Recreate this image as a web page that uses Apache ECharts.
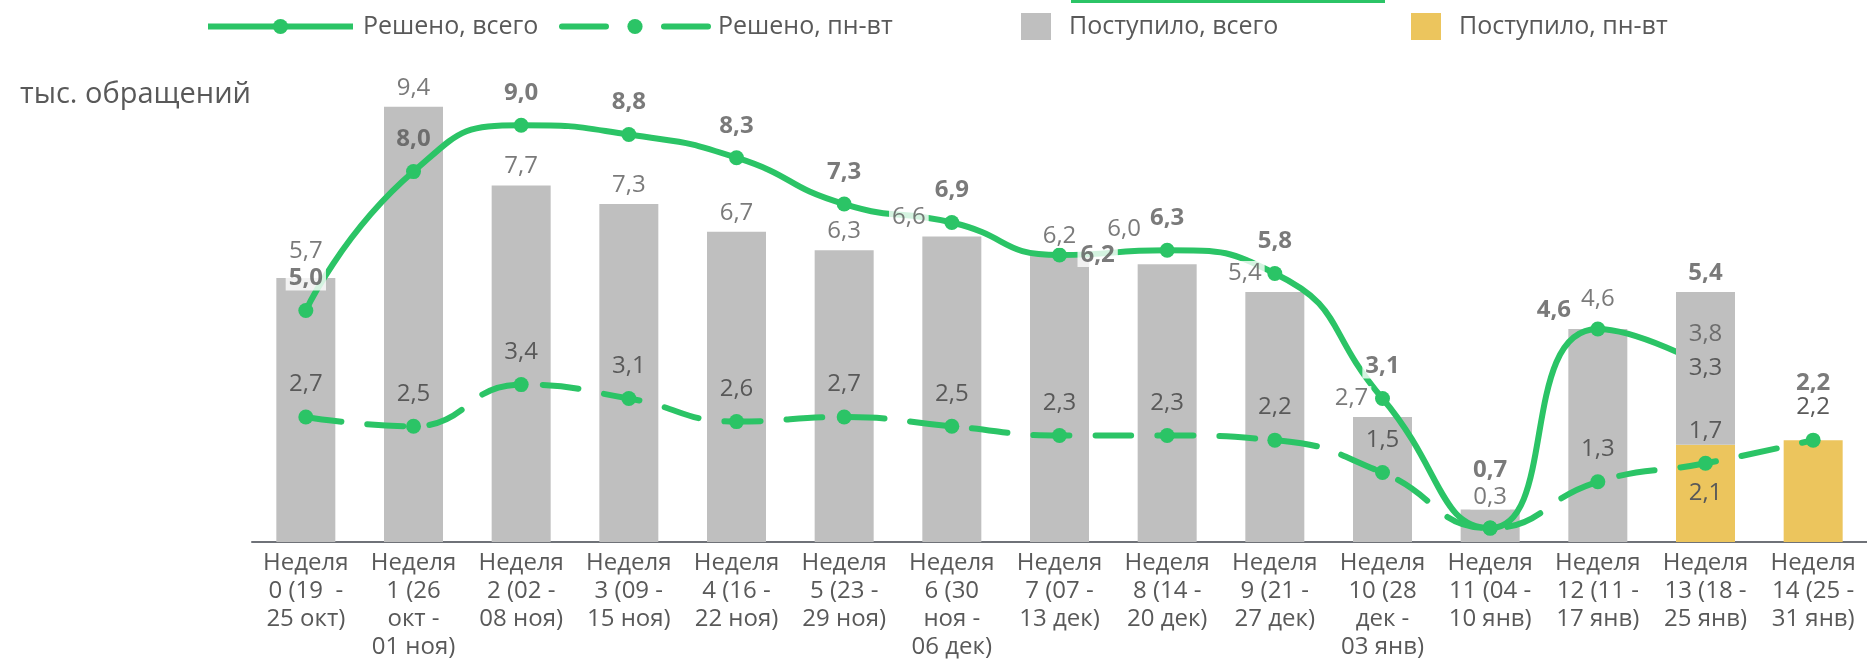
<!DOCTYPE html>
<html>
<head>
<meta charset="utf-8">
<script src="https://cdn.jsdelivr.net/npm/echarts@6/dist/echarts.min.js"></script>
<style>
  html, body { margin: 0; padding: 0; background: #fff; }
  #chart { width: 1867px; height: 662px; }
</style>
</head>
<body>
<div id="chart"></div>
<script>
  // недели
  const weeks = [
    'Неделя\n0 (19  -\n25 окт)', 'Неделя\n1 (26\nокт -\n01 ноя)', 'Неделя\n2 (02 -\n08 ноя)',
    'Неделя\n3 (09 -\n15 ноя)', 'Неделя\n4 (16 -\n22 ноя)', 'Неделя\n5 (23 -\n29 ноя)',
    'Неделя\n6 (30\nноя -\n06 дек)', 'Неделя\n7 (07 -\n13 дек)', 'Неделя\n8 (14 -\n20 дек)',
    'Неделя\n9 (21 -\n27 дек)', 'Неделя\n10 (28\nдек -\n03 янв)', 'Неделя\n11 (04 -\n10 янв)',
    'Неделя\n12 (11 -\n17 янв)', 'Неделя\n13 (18 -\n25 янв)', 'Неделя\n14 (25 -\n31 янв)'
  ];
  // Поступило, всего (на неделе 13 - часть сверх пн-вт)
  const received = [5.7, 9.4, 7.7, 7.3, 6.7, 6.3, 6.6, 6.2, 6.0, 5.4, 2.7, 0.7, 4.6, 3.3, null];
  // Поступило, пн-вт
  const receivedMonTue = [null, null, null, null, null, null, null, null, null, null, null, null, null, 2.1, 2.2];
  // Решено, всего
  const solved = [5.0, 8.0, 9.0, 8.8, 8.3, 7.3, 6.9, 6.2, 6.3, 5.8, 3.1, 0.3, 4.6, 3.8, null];
  // Решено, пн-вт
  const solvedMonTue = [2.7, 2.5, 3.4, 3.1, 2.6, 2.7, 2.5, 2.3, 2.3, 2.2, 1.5, 0.3, 1.3, 1.7, 2.2];

  // подписи как на слайде
  const receivedText = ['5,7', '9,4', '7,7', '7,3', '6,7', '6,3', '6,6', '6,2', '6,0', '5,4', '2,7', '0,3', '4,6', '5,4', '2,2'];
  const solvedText = ['5,0', '8,0', '9,0', '8,8', '8,3', '7,3', '6,9', '6,2', '6,3', '5,8', '3,1', '0,7', '4,6', '3,8', ''];
  const solvedMonTueText = ['2,7', '2,5', '3,4', '3,1', '2,6', '2,7', '2,5', '2,3', '2,3', '2,2', '1,5', '', '1,3', '1,7', '2,2'];

  const green = '#2BC466';
  const gray = '#BFBFBF';
  const yellow = '#ECC55D';
  const textColor = '#595959';

  const fmt = v => v.toFixed(1).replace('.', ',');
  const totals = received.map((v, i) => (v || 0) + (receivedMonTue[i] || 0));

  // сдвиги подписей, чтобы не налезали на линии
  const receivedTweaks = {
    0: {distance: 15}, 6: {offset: [-43, 0]}, 8: {offset: [-43, -16]}, 9: {offset: [-30, 0]},
    10: {offset: [-31, 0]}, 11: {distance: 0}, 12: {distance: 18},
    13: {fontWeight: 'bold'}, 14: {fontWeight: 'bold', distance: 45}
  };
  const solvedTweaks = {
    1: {backgroundColor: 'transparent'}, 7: {position: 'right', distance: 18},
    11: {distance: 20, offset: [0, -26], backgroundColor: 'transparent'}, 12: {offset: [-44, 13]},
    13: {fontWeight: 'normal', backgroundColor: 'transparent'}
  };

  let myChart = echarts.init(document.getElementById('chart'));

  myChart.setOption({
    animation: false,
    backgroundColor: '#fff',
    textStyle: {fontFamily: 'Open Sans'},
    title: {
      text: 'тыс. обращений',
      left: 15,
      top: 75,
      textStyle: {fontSize: 29, fontWeight: 'normal', color: textColor, fontFamily: 'Open Sans'}
    },
    graphic: [{
      type: 'rect',
      shape: {x: 1071, y: 0, width: 314, height: 3},
      style: {fill: green}
    }],
    legend: [{
      data: ['Решено, всего'], left: 200, top: 9, itemWidth: 145, itemHeight: 19,
      lineStyle: {width: 6},
      textStyle: {fontSize: 25, color: textColor, padding: [0, 0, 0, 5]}
    }, {
      data: ['Решено, пн-вт'], left: 554, top: 9, itemWidth: 146, itemHeight: 19,
      lineStyle: {width: 6, type: [44, 58]},
      textStyle: {fontSize: 25, color: textColor, padding: [0, 0, 0, 5]}
    }, {
      data: ['Поступило, всего'], left: 1016, top: 8, itemWidth: 30, itemHeight: 27, icon: 'rect',
      textStyle: {fontSize: 25, color: textColor, padding: [0, 0, 0, 13]}
    }, {
      data: ['Поступило, пн-вт'], left: 1406, top: 8, itemWidth: 30, itemHeight: 27, icon: 'rect',
      textStyle: {fontSize: 25, color: textColor, padding: [0, 0, 0, 13]}
    }],
    grid: {left: 252, right: 0, top: 79, bottom: 120, containLabel: false, outerBoundsMode: 'none'},
    xAxis: {
      type: 'category',
      data: weeks,
      axisLine: {lineStyle: {color: '#6f7278', width: 2}},
      axisTick: {show: false},
      axisLabel: {interval: 0, fontSize: 24, lineHeight: 28, color: textColor, margin: 7}
    },
    yAxis: {type: 'value', min: 0, max: 10, show: false},
    series: [{
      name: 'Поступило, всего',
      type: 'bar',
      stack: 'in',
      barWidth: 59,
      barGap: '-100%',
      z: 2,
      itemStyle: {color: gray},
      data: received.map((v, i) => i === 13 ? null : v)
    }, {
      name: 'Поступило, пн-вт',
      type: 'bar',
      stack: 'in',
      barWidth: 59,
      z: 2,
      itemStyle: {color: yellow},
      label: {
        show: true, position: 'inside', fontSize: 24, color: textColor,
        formatter: p => p.dataIndex === 13 ? fmt(p.value) : ''
      },
      data: receivedMonTue
    }, {
      name: 'Поступило, всего',
      type: 'bar',
      stack: 'in',
      barWidth: 59,
      z: 4,
      itemStyle: {color: gray},
      label: {show: true, position: 'inside', fontSize: 24, color: textColor, formatter: p => fmt(p.value)},
      data: received.map((v, i) => i === 13 ? v : null)
    }, {
      name: 'Решено, всего',
      type: 'line',
      smooth: 0.55,
      z: 3,
      symbol: 'circle',
      symbolSize: 15,
      itemStyle: {color: green},
      lineStyle: {color: green, width: 6},
      data: solved
    }, {
      name: 'Решено, пн-вт',
      type: 'line',
      smooth: 0.5,
      z: 6,
      symbol: 'circle',
      symbolSize: 15,
      itemStyle: {color: green},
      lineStyle: {color: green, width: 6, type: [36, 26], cap: 'round'},
      label: {
        show: true, position: 'top', distance: 13, fontSize: 24, color: textColor,
        formatter: p => solvedMonTueText[p.dataIndex]
      },
      data: solvedMonTue
    }, {
      name: 'подписи поступило',
      type: 'scatter',
      symbolSize: 0,
      z: 8,
      silent: true,
      data: totals.map((v, i) => ({
        value: v,
        label: Object.assign({
          show: true, position: 'top', distance: 7, fontSize: 24, color: textColor,
          backgroundColor: '#fff', padding: [0, 3],
          formatter: receivedText[i]
        }, receivedTweaks[i] || {})
      }))
    }, {
      name: 'подписи решено',
      type: 'scatter',
      symbolSize: 0,
      z: 8,
      silent: true,
      data: solved.map((v, i) => ({
        value: v,
        label: Object.assign({
          show: solvedText[i] !== '', position: 'top', distance: 20, fontSize: 24,
          fontWeight: 'bold', color: textColor, backgroundColor: '#fff', padding: [0, 3],
          formatter: solvedText[i]
        }, solvedTweaks[i] || {})
      }))
    }]
  });
</script>
</body>
</html>
